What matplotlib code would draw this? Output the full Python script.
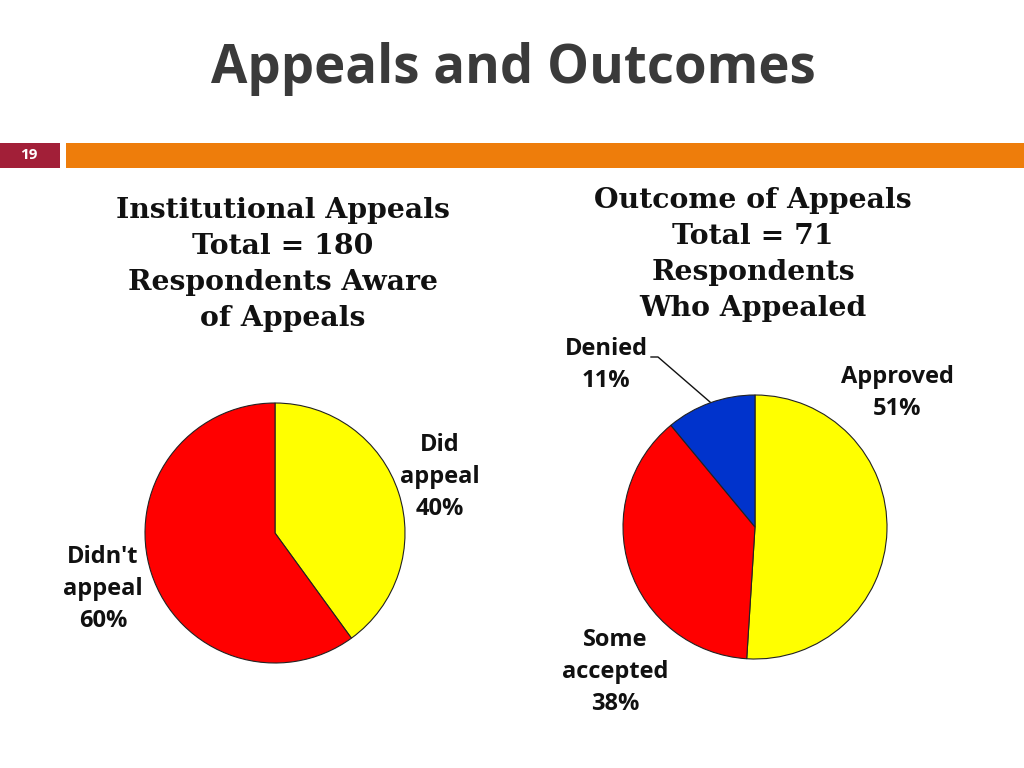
import matplotlib
matplotlib.use("Agg")
import matplotlib.pyplot as plt
from matplotlib.patches import Rectangle

# ---- data ----
title = "Appeals and Outcomes"
slide_number = "19"

left_title = ["Institutional Appeals", "Total = 180", "Respondents Aware", "of Appeals"]
left_labels = ["Did\nappeal", "Didn't\nappeal"]
left_values = [40, 60]
left_colors = ["#FFFF00", "#FF0000"]

right_title = ["Outcome of Appeals", "Total = 71", "Respondents", "Who Appealed"]
right_labels = ["Approved", "Some\naccepted", "Denied"]
right_values = [51, 38, 11]
right_colors = ["#FFFF00", "#FF0000", "#0033CC"]

W, H = 1024, 768
fig = plt.figure(figsize=(W / 100, H / 100), dpi=100)
ax = fig.add_axes([0, 0, 1, 1])

def Y(y):
    return H - y

label_font = dict(family="Open Sans", fontweight="bold", color="#111111")
serif_font = dict(family="DejaVu Serif", fontweight="heavy", color="#111111")

# left pie
ax.pie(left_values, colors=left_colors, startangle=90, counterclock=False,
       center=(275, Y(533)), radius=130,
       wedgeprops=dict(edgecolor="#222222", linewidth=0.8))
# right pie
ax.pie(right_values, colors=right_colors, startangle=90, counterclock=False,
       center=(755, Y(527)), radius=132,
       wedgeprops=dict(edgecolor="#222222", linewidth=0.8))
ax.set_xlim(0, W)
ax.set_ylim(0, H)
ax.set_aspect("equal")
ax.axis("off")

# title
ax.text(513, Y(69), title, ha="center", va="center", fontsize=38,
        family="Open Sans", fontweight="bold", color="#3A3A3A")

# header bars
ax.add_patch(Rectangle((0, Y(168)), 60, 25, facecolor="#A21F38", edgecolor="none"))
ax.add_patch(Rectangle((66, Y(168)), W - 66, 25, facecolor="#EE7D0B", edgecolor="none"))
ax.text(29, Y(155), slide_number, ha="center", va="center", fontsize=11,
        family="Open Sans", fontweight="bold", color="white")

# subtitles
for i, line in enumerate(left_title):
    ax.text(283, Y(210 + 36 * i), line, ha="center", va="center", fontsize=20.3, **serif_font)
for i, line in enumerate(right_title):
    ax.text(753, Y(200 + 36 * i), line, ha="center", va="center", fontsize=20.3, **serif_font)

lab_fs = 17
ls = 1.42
ax.text(440, Y(477), f"{left_labels[0]}\n{left_values[0]}%", ha="center", va="center",
        fontsize=lab_fs, linespacing=ls, **label_font)
ax.text(103, Y(589), f"{left_labels[1]}\n{left_values[1]}%", ha="center", va="center",
        fontsize=lab_fs, linespacing=ls, **label_font)
ax.text(897, Y(393), f"{right_labels[0]}\n{right_values[0]}%", ha="center", va="center",
        fontsize=lab_fs, linespacing=ls, **label_font)
ax.text(615, Y(672), f"{right_labels[1]}\n{right_values[1]}%", ha="center", va="center",
        fontsize=lab_fs, linespacing=ls, **label_font)
ax.text(606, Y(365), f"{right_labels[2]}\n{right_values[2]}%", ha="center", va="center",
        fontsize=lab_fs, linespacing=ls, **label_font)
# leader line for Denied
ax.plot([651, 658, 710], [Y(357), Y(357), Y(402)], color="#111111", linewidth=1)

fig.savefig("out.png", dpi=100)
